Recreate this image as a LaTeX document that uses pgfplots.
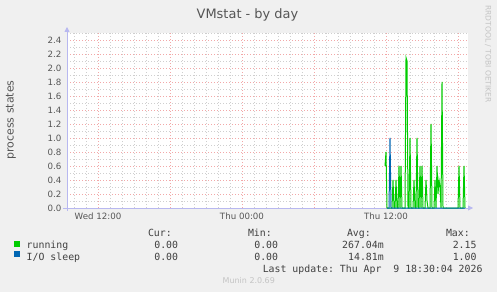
\documentclass[border=0pt]{standalone}
\usepackage{pgfplots}
\pgfplotsset{compat=1.18}
\usepackage{fontspec}
\setmainfont{DejaVu Sans}
\setmonofont{DejaVu Sans Mono}
\usetikzlibrary{arrows.meta}
\definecolor{bgc}{HTML}{F0F0F0}
\definecolor{rungreen}{HTML}{00CC00}
\definecolor{ioblue}{HTML}{0066B3}
\definecolor{majgrid}{HTML}{F2A8A8}
\definecolor{mingrid}{HTML}{CFCFCF}
\definecolor{axcol}{HTML}{B8B8F0}
\definecolor{txt}{HTML}{555555}
\definecolor{legtxt}{HTML}{404040}
\definecolor{faint}{HTML}{C4C4C4}
\begin{document}
\begin{tikzpicture}[x=1bp,y=1bp]
\useasboundingbox (0,0) rectangle (497,292);
\fill[bgc] (0,0) rectangle (497,292);
\begin{axis}[
  at={(67bp,84bp)}, anchor=south west,
  scale only axis, width=401bp, height=175bp,
  xmin=-319, xmax=82, ymin=0, ymax=2.5,
  axis background/.style={fill=white},
  axis lines=left,
  axis line style={draw=axcol, line width=0.8bp, -{Triangle[length=5bp,width=5bp]}},
  x axis line style={shorten >=-5bp, shorten <=-4bp},
  y axis line style={shorten >=-6bp, shorten <=-3bp},
  xtick={-288,-216,-144,-72,0,72},
  xticklabels={Wed 12:00,,Thu 00:00,,Thu 12:00,},
  minor xtick={-312,-300,-276,-264,-252,-240,-228,-204,-192,-180,-168,-156,-132,-120,-108,-96,-84,-60,-48,-36,-24,-12,12,24,36,48,60},
  ytick={0,0.2,0.4,0.6,0.8,1.0,1.2,1.4,1.6,1.8,2.0,2.2,2.4},
  minor ytick={0.1,0.3,0.5,0.7,0.9,1.1,1.3,1.5,1.7,1.9,2.1,2.3,2.5},
  grid=both,
  major grid style={draw=majgrid, dash pattern=on 1bp off 2bp, line width=0.6bp},
  minor grid style={draw=mingrid, dash pattern=on 1bp off 2bp, line width=0.6bp},
  major tick length=0pt, minor tick length=0pt,
  tick style={draw=none},
  ticklabel style={font=\fontsize{8.7}{10}\selectfont, text=txt},
  /pgf/number format/fixed,
  /pgf/number format/fixed zerofill,
  /pgf/number format/precision=1,
  /pgf/number format/assume math mode=true,
  yticklabel style={xshift=-2bp},
  xticklabel style={yshift=-1bp},
  clip=false,
]
\addplot[rungreen, line width=1bp] coordinates {
(-1,0.6) (0,0.8) (1,0) (2,0) (3,0) (4,0) (5,0) (6,0) (7,0.4) (8,0) (9,0)
(10,0.4) (11,0) (12,0) (13,0.6) (14,0) (15,0.6) (16,0) (17,0) (18,0) (19,0)
(20,2.15) (21,2.1) (22,0) (23,0) (24,1.0) (25,0) (26,0) (27,0) (28,0.4) (29,0)
(30,0) (31,1.0) (32,0) (33,0) (34,0.6) (35,0) (36,0.6) (37,0) (38,0) (39,0)
(40,0.4) (41,0.1) (42,0) (43,0) (44,0) (45,1.2) (46,0) (47,0) (48,0) (49,0.4)
(50,0) (51,0.6) (52,0.2) (53,0.4) (54,0.3) (55,0) (56,1.8) (57,0) (58,0) (59,0)
(60,0) (61,0) (62,0) (63,0) (64,0) (65,0) (66,0) (67,0) (68,0) (69,0)
(70,0) (71,0) (72,0) (73,0.6) (74,0) (75,0) (76,0) (77,0) (78,0.6) (79,0)
};
\addplot[ioblue, line width=1bp] coordinates {
(1,0) (2,0) (3,0) (4,1.0) (5,0) (6,0) (7,0) (8,0) (9,0) (10,0)
(20,0) (30,0) (40,0) (50,0) (60,0) (70,0) (79,0)
};
\end{axis}
% title
\node[anchor=base, inner sep=0, text=txt, font=\fontsize{13}{15}\selectfont] at (247.5,273.7) {VMstat - by day};
% y label
\node[rotate=90, anchor=center, inner sep=0, text=txt, font=\fontsize{11}{13}\selectfont] at (11,172) {process states};
% rrdtool watermark
\node[rotate=-90, anchor=west, inner sep=0, text=faint, font=\fontsize{7.6}{9}\selectfont] at (488,287) {RRDTOOL / TOBI OETIKER};
% legend
\begin{scope}[every node/.style={inner sep=0, text=legtxt, font=\fontsize{9.9}{11}\ttfamily}]
\node[anchor=base east] at (172,56) {Cur:};
\node[anchor=base east] at (272,56) {Min:};
\node[anchor=base east] at (371,56) {Avg:};
\node[anchor=base east] at (470,56) {Max:};
\node[anchor=south west] at (14,45) {\textcolor{rungreen}{\rule{5.5bp}{5.5bp}}};
\node[anchor=south west] at (14,35) {\textcolor{ioblue}{\rule{5.5bp}{5.5bp}}};
\node[anchor=base west] at (26.5,44) {running};
\node[anchor=base west] at (26.5,32) {I/O sleep};
\node[anchor=base east] at (178.3,44) {0.00};
\node[anchor=base east] at (278.3,44) {0.00};
\node[anchor=base east] at (384,44) {267.04m};
\node[anchor=base east] at (476.7,44) {2.15};
\node[anchor=base east] at (178.3,32) {0.00};
\node[anchor=base east] at (278.3,32) {0.00};
\node[anchor=base east] at (384,32) {14.81m};
\node[anchor=base east] at (476.7,32) {1.00};
\node[anchor=base east] at (482.7,20) {Last update: Thu Apr~~9 18:30:04 2026};
\end{scope}
\node[anchor=base, inner sep=0, text=faint, font=\fontsize{8}{9}\selectfont] at (248.8,9) {Munin 2.0.69};
\end{tikzpicture}
\end{document}
